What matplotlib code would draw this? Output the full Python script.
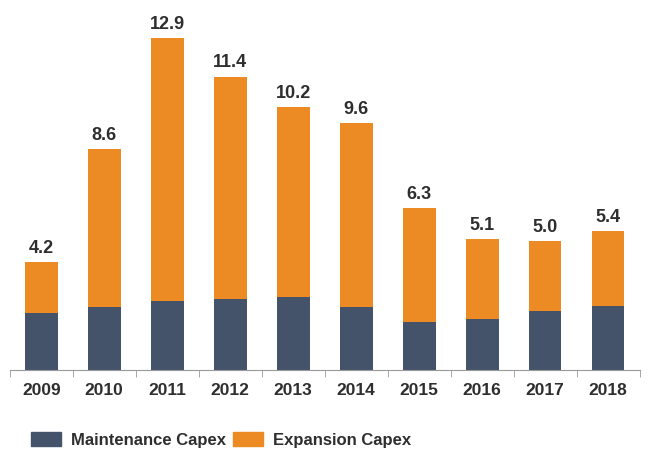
import numpy as np
import matplotlib.pyplot as plt
from matplotlib.patches import Patch

plt.rcParams['font.family'] = ['Liberation Sans', 'DejaVu Sans']

years = ['2009', '2010', '2011', '2012', '2013', '2014', '2015', '2016', '2017', '2018']
totals = [4.2, 8.6, 12.9, 11.4, 10.2, 9.6, 6.3, 5.1, 5.0, 5.4]
maintenance = [2.2, 2.45, 2.7, 2.75, 2.85, 2.45, 1.85, 2.0, 2.3, 2.5]
expansion = [t - m for t, m in zip(totals, maintenance)]

navy = '#44536a'
orange = '#ec8a23'
text_col = '#2e2e2e'

fig = plt.figure(figsize=(6.5, 4.54), dpi=100)
ax = fig.add_axes([0.015, 0.185, 0.969, 0.771])

x = np.arange(len(years))
ax.bar(x, maintenance, width=0.52, color=navy)
ax.bar(x, expansion, width=0.52, bottom=maintenance, color=orange)

# total on top of each bar
for xi, t in zip(x, totals):
    ax.text(xi, t + 0.2, f'{t:.1f}', ha='center', va='bottom',
            fontsize=13, fontweight='bold', color=text_col)

ax.set_xlim(-0.5, len(years) - 0.5)
ax.set_ylim(0, 13.6)

for s in ['top', 'right', 'left']:
    ax.spines[s].set_visible(False)
ax.spines['bottom'].set_color('#999999')
ax.set_yticks([])

ax.set_xticks(x)
ax.set_xticklabels(years, fontsize=12.5, fontweight='bold', color=text_col)
ax.tick_params(axis='x', which='major', length=0, pad=9)
ax.set_xticks(np.arange(-0.5, len(years)), minor=True)
ax.tick_params(axis='x', which='minor', length=5, color='#999999', direction='out')

handles = [Patch(color=navy, label='Maintenance Capex'),
           Patch(color=orange, label='Expansion Capex')]
fig.legend(handles=handles, loc='center left', bbox_to_anchor=(0.025, 0.031),
           ncol=2, frameon=False, handlelength=1.8, handleheight=0.9,
           handletextpad=0.6, columnspacing=0.4,
           prop={'size': 12, 'weight': 'bold'}, labelcolor=text_col)

fig.savefig('out.png', dpi=100)
